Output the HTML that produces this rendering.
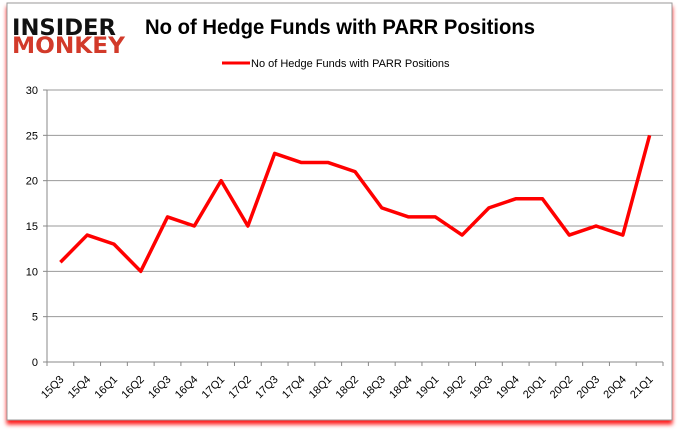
<!DOCTYPE html>
<html><head><meta charset="utf-8"><style>
body{margin:0;background:#fff;font-family:"Liberation Sans",sans-serif}
#wrap{position:relative;width:680px;height:433px}
</style></head><body>
<div id="wrap">
<svg width="680" height="433" id="svg">
<defs><filter id="sh" x="-5%" y="-5%" width="110%" height="115%"><feDropShadow dx="0" dy="4" stdDeviation="2" flood-color="#f00" flood-opacity="0.9"/></filter></defs>
<rect x="7" y="3" width="665" height="417" fill="#fff" stroke="#999" filter="url(#sh)"/>
<g>
<text x="12" y="35" font-family="DejaVu Sans" font-weight="bold" font-size="22" fill="#111" textLength="104" lengthAdjust="spacingAndGlyphs">INSIDER</text>
<text x="12" y="53" font-family="DejaVu Sans" font-weight="bold" font-size="22" fill="#d23a2a" textLength="113" lengthAdjust="spacingAndGlyphs">MONKEY</text>
</g>
<text x="340" y="34" text-anchor="middle" font-size="21" font-weight="bold" fill="#000" textLength="390" lengthAdjust="spacingAndGlyphs">No of Hedge Funds with PARR Positions</text>
<g>
<line x1="222" y1="63" x2="250" y2="63" stroke="#f00" stroke-width="3"/>
<text x="251" y="67" font-size="11" fill="#000">No of Hedge Funds with PARR Positions</text>
</g>
<g id="grid"></g><g id="axes"></g><g id="series"></g>
</svg></div>
<script>
const categories=["15Q3","15Q4","16Q1","16Q2","16Q3","16Q4","17Q1","17Q2","17Q3","17Q4","18Q1","18Q2","18Q3","18Q4","19Q1","19Q2","19Q3","19Q4","20Q1","20Q2","20Q3","20Q4","21Q1"];
const values=[11,14,13,10,16,15,20,15,23,22,22,21,17,16,16,14,17,18,18,14,15,14,25];
const yTicks=[0,5,10,15,20,25,30];
const L=47,R=663,T=90,B=362,yMax=30;
const bw=(R-L)/categories.length;
const x=i=>L+bw*(i+0.5), y=v=>B-(v/yMax)*(B-T);
const NS="http://www.w3.org/2000/svg";
function mk(tag,attrs,parent,txt){const e=document.createElementNS(NS,tag);for(const k in attrs)e.setAttribute(k,attrs[k]);if(txt!=null)e.textContent=txt;document.getElementById(parent).appendChild(e);return e;}
yTicks.forEach(t=>{
 const g=mk('line',{x1:L,x2:R,y1:y(t),y2:y(t),stroke:t===0?'#888':'#999'},'grid');
 
 
 mk('line',{x1:L-4,x2:L,y1:y(t),y2:y(t),stroke:'#888'},'axes');
 const lb=mk('text',{x:L-9,y:y(t)+4,'text-anchor':'end','font-size':'11',fill:'#000'},'axes',t);
 
 
});
const ya=mk('line',{x1:L,x2:L,y1:T,y2:B,stroke:'#888'},'axes');


categories.forEach((c,i)=>{
 mk('line',{x1:L+bw*i,x2:L+bw*i,y1:B,y2:B+4,stroke:'#888'},'axes');
 const tx=x(i)+4,ty=B+18;
 const lb=mk('text',{x:tx,y:ty,'text-anchor':'end','font-size':'11',fill:'#000',transform:`rotate(-45 ${tx} ${ty})`},'axes',c);
 
 
});
mk('line',{x1:R,x2:R,y1:B,y2:B+4,stroke:'#888'},'axes');
const p=mk('polyline',{points:values.map((v,i)=>x(i)+','+y(v)).join(' '),fill:'none',stroke:'#f00','stroke-width':3.5,'stroke-linejoin':'round'},'series');


</script>
</body></html>
